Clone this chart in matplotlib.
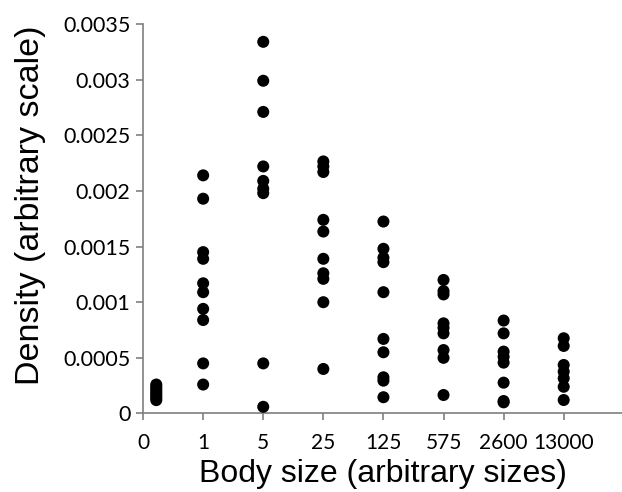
import matplotlib
matplotlib.use("Agg")
import matplotlib.pyplot as plt

# Category positions and labels
tick_labels = ["0", "1", "5", "25", "125", "575", "2600", "13000"]
tick_pos = [0, 1, 2, 3, 4, 5, 6, 7]

# Column x positions (category index) and density values
x_size0 = 0.22
y_size0 = [0.00026, 0.00024, 0.00022, 0.0002, 0.00018, 0.00016, 0.00014, 0.00012]
x_size1 = 1
y_size1 = [0.00214, 0.00193, 0.00145, 0.00139, 0.00117, 0.00109, 0.00094, 0.00084, 0.00045, 0.00026]
x_size5 = 2
y_size5 = [0.00334, 0.00299, 0.00271, 0.00222, 0.00209, 0.00202, 0.00198, 0.00045, 0.00006]
x_size25 = 3
y_size25 = [0.002265, 0.00222, 0.00217, 0.00174, 0.001635, 0.00139, 0.00126, 0.00121, 0.0010, 0.0004]
x_size125 = 4
y_size125 = [0.001725, 0.00148, 0.0014, 0.00136, 0.00109, 0.00067, 0.00055, 0.000325, 0.000295, 0.000146]
x_size575 = 5
y_size575 = [0.0012, 0.0011, 0.00107, 0.00081, 0.00077, 0.00072, 0.00057, 0.0005, 0.000166]
x_size2600 = 6
y_size2600 = [0.000835, 0.00072, 0.000556, 0.00051, 0.000457, 0.000277, 0.000112, 0.0001]
x_size13000 = 7
y_size13000 = [0.000676, 0.000607, 0.000436, 0.000376, 0.000316, 0.00024, 0.000121]

columns = [
    (x_size0, y_size0), (x_size1, y_size1), (x_size5, y_size5), (x_size25, y_size25),
    (x_size125, y_size125), (x_size575, y_size575), (x_size2600, y_size2600),
    (x_size13000, y_size13000),
]

fig = plt.figure(figsize=(6.22, 4.92), dpi=100)
ax = fig.add_axes([0.23, 0.1596, 0.77, 0.7916])

for xv, ys in columns:
    ax.scatter([xv] * len(ys), ys, s=75, color="black", edgecolors="none", zorder=3)

ax.set_xlim(0, 7.97)
ax.set_ylim(0, 0.0035)
ax.set_xticks(tick_pos)
ax.set_xticklabels(tick_labels)
yt = [0, 0.0005, 0.001, 0.0015, 0.002, 0.0025, 0.003, 0.0035]
ax.set_yticks(yt)
ax.set_yticklabels(["0", "0.0005", "0.001", "0.0015", "0.002", "0.0025", "0.003", "0.0035"])

for side in ["top", "right"]:
    ax.spines[side].set_visible(False)
for side in ["left", "bottom"]:
    ax.spines[side].set_color("#7f7f7f")
    ax.spines[side].set_linewidth(1.2)

ax.tick_params(axis="both", direction="out", length=5, width=1.2, color="#7f7f7f",
               labelsize=15.5, labelcolor="black")
ax.tick_params(axis="x", pad=9, labelsize=15)
ax.tick_params(axis="y", pad=4)
for lab in ax.get_xticklabels() + ax.get_yticklabels():
    lab.set_fontfamily(["Lato", "DejaVu Sans"])

ax.set_xlabel("Body size (arbitrary sizes)", fontsize=23, family=["Liberation Sans", "DejaVu Sans"])
ax.xaxis.set_label_coords(0.5, -0.155)
ax.xaxis.label.set_verticalalignment("center")
ax.set_ylabel("Density (arbitrary scale)", fontsize=24.5, family=["Liberation Sans", "DejaVu Sans"])
ax.yaxis.set_label_coords(-0.236, 0.535)
ax.yaxis.label.set_verticalalignment("center")

fig.savefig("out.png", dpi=100)
